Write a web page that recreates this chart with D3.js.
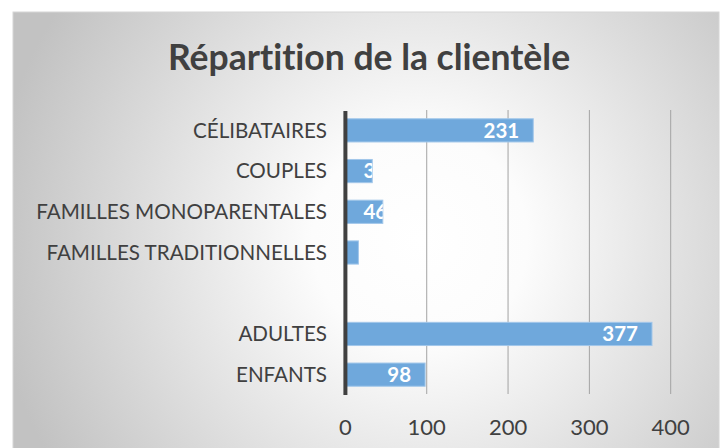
<!DOCTYPE html>
<html>
<head>
<meta charset="utf-8">
<script src="https://cdn.jsdelivr.net/npm/d3@7"></script>
<style>
	html, body { margin: 0; padding: 0; background: #fff; }
	svg { display: block; }
	text { font-variant-ligatures: none; }
	.cat-label { font-family: Lato, 'Open Sans', sans-serif; font-size: 20.6px; fill: #404040; }
	.tick-label { font-family: Lato, 'Open Sans', sans-serif; font-size: 22px; fill: #404040; }
	.value-label { font-family: Lato, 'Open Sans', sans-serif; font-size: 20.5px; font-weight: bold; fill: #fff; }
	.chart-title { font-family: Lato, 'Open Sans', sans-serif; font-size: 35.5px; font-weight: bold; fill: #404040; }
</style>
</head>
<body>
<svg id="chart"></svg>
<script>

let categories = ['CÉLIBATAIRES', 'COUPLES', 'FAMILLES MONOPARENTALES', 'FAMILLES TRADITIONNELLES', '', 'ADULTES', 'ENFANTS']
let values = [231, 33, 46, 16, null, 377, 98]
let ticks = [0, 100, 200, 300, 400]
let title = 'Répartition de la clientèle'

let width = 723
let height = 448

let svg = d3.select('#chart')
	.attr('width', width)
	.attr('height', height)

let defs = svg.append('defs')

let grad = defs.append('radialGradient')
	.attr('id', 'bg')
	.attr('gradientUnits', 'userSpaceOnUse')
	.attr('cx', 420)
	.attr('cy', 240)
	.attr('r', 430)

grad.append('stop').attr('offset', 0).attr('stop-color', '#ffffff')
grad.append('stop').attr('offset', 0.25).attr('stop-color', '#fcfcfc')
grad.append('stop').attr('offset', 1).attr('stop-color', '#c2c2c2')

// chart area
svg.append('rect')
	.attr('x', 13)
	.attr('y', 12)
	.attr('width', 706)
	.attr('height', 440)
	.attr('fill', 'url(#bg)')
	.attr('stroke', '#d6d6d6')
	.attr('stroke-width', 1)

let x = d3.scaleLinear()
	.domain([0, 400])
	.range([345.4, 670.7])

let y = d3.scaleBand()
	.domain(categories)
	.range([110, 395])
	.paddingInner(0.43)
	.paddingOuter(0.215)

// gridlines
svg.append('g')
	.selectAll('line')
	.data(ticks.filter(d => d > 0))
	.enter()
	.append('line')
	.attr('x1', d => x(d))
	.attr('x2', d => x(d))
	.attr('y1', 110)
	.attr('y2', 394)
	.attr('stroke', '#a3a3a3')
	.attr('stroke-width', 1)

let rows = categories.map((c, i) => ({ name: c, value: values[i], key: 'b' + i }))
let barData = rows.filter(d => d.value != null)

// clip each label to its bar
defs.selectAll('clipPath')
	.data(barData)
	.enter()
	.append('clipPath')
	.attr('id', d => 'clip-' + d.key)
	.append('rect')
	.attr('x', x(0))
	.attr('y', d => y(d.name))
	.attr('width', d => x(d.value) - x(0))
	.attr('height', y.bandwidth())

svg.append('g')
	.selectAll('rect')
	.data(barData)
	.enter()
	.append('rect')
	.attr('x', x(0))
	.attr('y', d => y(d.name))
	.attr('width', d => x(d.value) - x(0))
	.attr('height', y.bandwidth())
	.attr('fill', '#6fa8dc')
	.attr('stroke', '#a2c7ea')
	.attr('stroke-width', 1)

// value labels, inside end, clipped to the bar
let labels = svg.append('g')
	.selectAll('text')
	.data(barData)
	.enter()
	.append('text')
	.attr('class', 'value-label')
	.attr('clip-path', d => 'url(#clip-' + d.key + ')')
	.attr('y', d => y(d.name) + y.bandwidth() / 2)
	.attr('dy', '0.36em')
	.attr('text-anchor', 'end')
	.text(d => d.value)

labels.attr('x', function(d) {
	let w = this.getComputedTextLength()
	return Math.max(x(d.value) - 14, x(0) + 18 + w)
})

// vertical axis line
svg.append('line')
	.attr('x1', x(0))
	.attr('x2', x(0))
	.attr('y1', 111)
	.attr('y2', 395)
	.attr('stroke', '#404040')
	.attr('stroke-width', 4)

// category labels
svg.append('g')
	.selectAll('text')
	.data(rows)
	.enter()
	.append('text')
	.attr('class', 'cat-label')
	.attr('x', 327)
	.attr('y', d => y(d.name) + y.bandwidth() / 2)
	.attr('dy', '0.36em')
	.attr('text-anchor', 'end')
	.text(d => d.name)

// x tick labels
svg.append('g')
	.selectAll('text')
	.data(ticks)
	.enter()
	.append('text')
	.attr('class', 'tick-label')
	.attr('x', d => x(d))
	.attr('y', 427.5)
	.attr('dy', '0.36em')
	.attr('text-anchor', 'middle')
	.text(d => d)

svg.append('text')
	.attr('class', 'chart-title')
	.attr('x', 369)
	.attr('y', 70)
	.attr('text-anchor', 'middle')
	.text(title)

</script>
</body>
</html>
